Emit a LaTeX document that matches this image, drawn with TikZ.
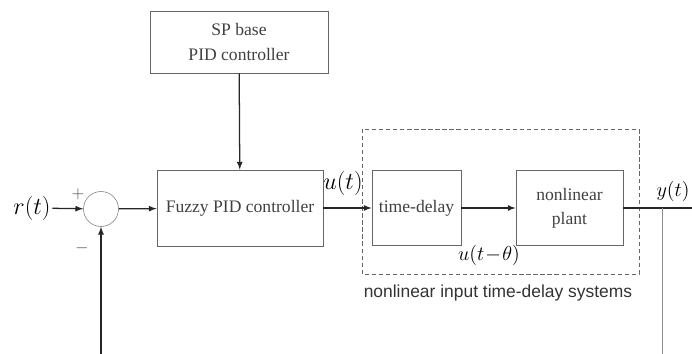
\documentclass[tikz,border=0pt]{standalone}
\usepackage{amsmath,amssymb}
\usepackage{fontspec}
\setmainfont{Liberation Serif}
\setsansfont{Liberation Sans}
\usetikzlibrary{arrows}

\tikzset{
  blk/.style={draw=black!60, line width=0.6pt, minimum height=1.875cm, inner sep=2pt, align=center, font=\fontsize{12.5}{17}\selectfont, text=black!75},
  ln/.style={draw=black!85, line width=0.9pt},
  lbl/.style={font=\fontsize{16}{18}\selectfont, inner sep=1pt},
}

\begin{document}
\begin{tikzpicture}[x=0.025cm,y=-0.025cm]
\useasboundingbox (0,0) rectangle (692,354);

\node[blk, minimum width=4.45cm, minimum height=1.55cm, font=\fontsize{12.5}{18}\selectfont] (sp) at (239,42) {SP base\\PID controller};
\node[blk, minimum width=4.15cm, minimum height=1.9cm] (fuzzy) at (240,208) {Fuzzy PID controller};
\node[draw=black!50, circle, minimum size=0.875cm, inner sep=0pt] (sum) at (101,209) {};

\node[blk, minimum width=2.225cm] (delay) at (416.5,208) {time-delay};
\node[blk, minimum width=2.675cm] (plant) at (569.5,208) {nonlinear\\plant};

\draw[black!60, densely dashed, line width=0.5pt] (362,129) rectangle (639,274);
\node[font=\sffamily\fontsize{12.4}{14}\selectfont, text=black!80] (sys) at (498,293) {nonlinear input time-delay systems};

\node[lbl, font=\fontsize{17}{19}\selectfont] (rt) at (32,208) {$r(t)$};
\node[font=\large, text=black!70] (plus) at (78,194) {$+$};
\node[font=\large, text=black!70] (minus) at (82,248) {$-$};
\node[lbl] (ut) at (343,183) {$u(t)$};
\node[lbl, font=\fontsize{14}{16}\selectfont] (utd) at (489,255) {$u(t\!-\!\theta)$};
\node[lbl, font=\fontsize{15.5}{17}\selectfont] (yt) at (673,191) {$y(t)$};

\coordinate (fb) at (101,354);
\coordinate (br) at (662,208);
\coordinate (out) at (692,208);
\coordinate (brlow) at (662,354);

\draw[ln,-latex] (sp) -- (fuzzy);
\draw[ln,-latex] (rt) -- (sum);
\draw[ln,-latex] (sum) -- (fuzzy);
\draw[ln,-latex] (fb) -- (sum);
\draw[ln,-latex] (fuzzy) -- (delay);
\draw[ln,-latex] (delay) -- (plant);
\draw[ln] (plant) -- (out);
%\draw[ln,-latex] (br) -- (brlow);
\draw[black!45, line width=0.6pt] (br) -- (brlow);

\end{tikzpicture}
\end{document}
